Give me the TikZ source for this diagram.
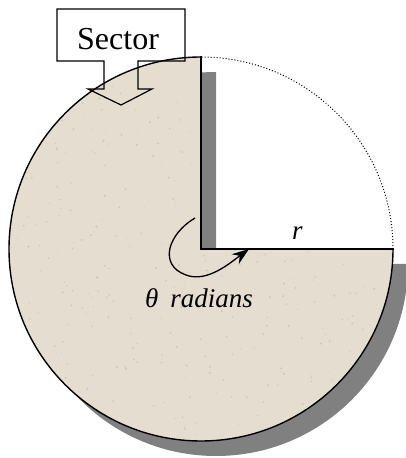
\documentclass[tikz,border=0pt]{standalone}
\usepackage{fontspec}
\setmainfont{Liberation Serif}
\newfontfamily\tnr{Liberation Serif}
\usetikzlibrary{arrows.meta}
\definecolor{beige}{RGB}{229,221,208}
\definecolor{speck}{RGB}{208,198,183}
\definecolor{shadowgray}{RGB}{128,128,128}
\tikzset{
  sectorpath/.style={line width=1.4pt},
  radial/.style={line width=2.6pt, line cap=rect},
  calloutbox/.style={line width=1.2pt, line join=miter},
  lbl/.style={inner sep=0pt, anchor=base west},
}
\begin{document}
\begin{tikzpicture}[x=1pt,y=1pt]
\useasboundingbox (0,0) rectangle (406,458);
\coordinate (C) at (201,209);
% shadow
\fill[shadowgray] ([shift={(15,-15)}]C) -- ++(90:192) arc[start angle=90,end angle=360,radius=192] -- cycle;
% sector fill
\fill[beige] (C) -- ++(90:192) arc[start angle=90,end angle=360,radius=192] -- cycle;
% speckles
\begin{scope}
\clip (C) -- ++(90:192) arc[start angle=90,end angle=360,radius=192] -- cycle;
\pgfmathsetseed{7}
\foreach \i in {1,...,400}{
  \pgfmathsetmacro{\px}{9+384*rnd}
  \pgfmathsetmacro{\py}{17+384*rnd}
  \pgfmathsetmacro{\pr}{0.4+0.8*rnd}
  \fill[speck] (\px,\py) circle[radius=\pr];
}
\end{scope}
% outlines
\draw[sectorpath] (201,401) arc[start angle=90,end angle=360,radius=192];
\draw[dotted, line width=1pt] (393,209) arc[start angle=0,end angle=90,radius=192];
\draw[radial] (201,401) -- (C) -- (393,209);
% callout
\draw[calloutbox] (57,449) -- (185,449) -- (185,397) -- (138,397) -- (138,369) -- (152,369) -- (121,353) -- (88,369) -- (104,369) -- (104,397) -- (57,397) -- cycle;
\node[lbl] (sec) at (77,408) {\tnr\fontsize{32}{36}\selectfont Sector};
% labels
\node[lbl] (r) at (292,218) {\tnr\fontsize{27}{30}\selectfont\itshape r};
\node[lbl] (th) at (145,150) {\tnr\fontsize{27}{30}\selectfont\itshape θ\hspace{12pt}radians};
% theta arrow
\coordinate (a0) at (195,240);
\coordinate (a1) at (186,183);
\coordinate (tip) at (249,209);
\draw[line width=1.3pt, -{Stealth[length=17pt,width=12pt]}] (a0) .. controls (168,224) and (158,193) .. (a1) .. controls (207,175) and (230,195) .. (tip);
\end{tikzpicture}
\end{document}
